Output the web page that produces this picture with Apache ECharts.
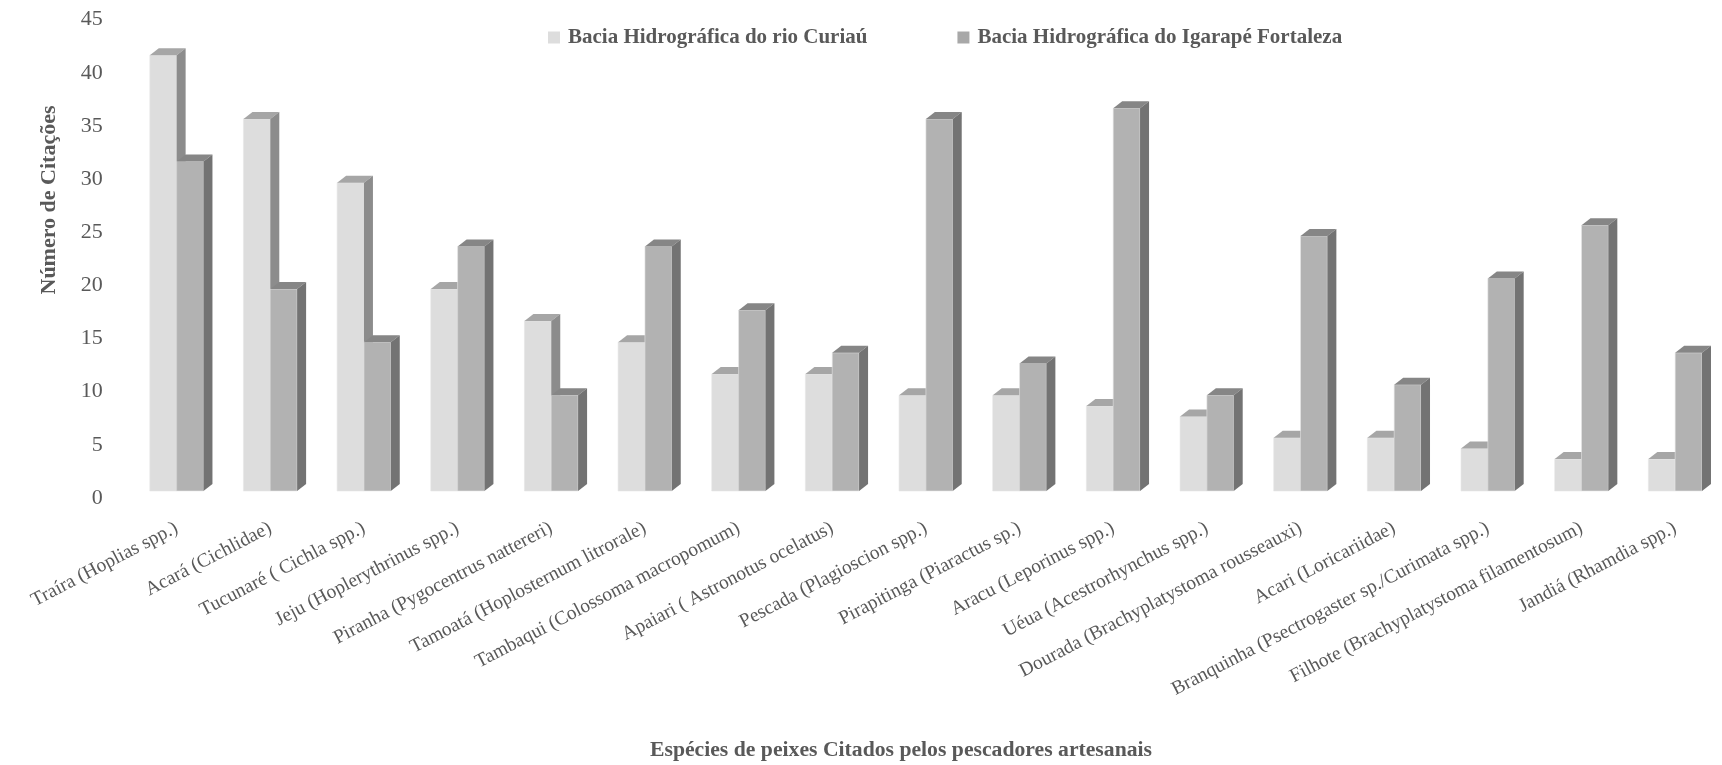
<!DOCTYPE html>
<html>
<head>
<meta charset="utf-8">
<script src="https://cdn.jsdelivr.net/npm/echarts@6/dist/echarts.min.js"></script>
<style>
  html, body { margin: 0; padding: 0; background: #fff; }
  #chart { width: 1722px; height: 765px; }
</style>
</head>
<body>
<div id="chart"></div>
<script>
// espécies citadas (eixo x)
var especies = [
  'Traíra (Hoplias spp.)',
  'Acará (Cichlidae)',
  'Tucunaré ( Cichla spp.)',
  'Jeju (Hoplerythrinus spp.)',
  'Piranha (Pygocentrus nattereri)',
  'Tamoatá (Hoplosternum litrorale)',
  'Tambaqui (Colossoma macropomum)',
  'Apaiari ( Astronotus ocelatus)',
  'Pescada (Plagioscion spp.)',
  'Pirapitinga (Piaractus sp.)',
  'Aracu (Leporinus spp.)',
  'Uéua (Acestrorhynchus spp.)',
  'Dourada (Brachyplatystoma rousseauxi)',
  'Acari (Loricariidae)',
  'Branquinha (Psectrogaster sp./Curimata spp.)',
  'Filhote (Brachyplatystoma filamentosum)',
  'Jandiá (Rhamdia spp.)'
]
var nomesSeries = ['Bacia Hidrográfica do rio Curiaú', 'Bacia Hidrográfica do Igarapé Fortaleza']
var curiau = [41, 35, 29, 19, 16, 14, 11, 11, 9, 9, 8, 7, 5, 5, 4, 3, 3]
var fortaleza = [31, 19, 14, 23, 9, 23, 17, 13, 35, 12, 36, 9, 24, 10, 20, 25, 13]

var fonte = '"Liberation Serif", "Times New Roman", serif'
var cinzaTexto = '#595959'

// cores das faces: frente, topo, lado
var coresCuriau = { front: '#dddddd', top: '#a6a6a6', side: '#8c8c8c' }
var coresFortaleza = { front: '#b2b2b2', top: '#868686', side: '#737373' }

// barra "3D" desenhada com a escala do eixo
function barra3d(idx, cores) {
  return function (params, api) {
    var ci = api.value(0)
    var v = api.value(1)
    var base = api.coord([ci, 0])
    var topo = api.coord([ci, v])
    var banda = api.size([1, 0])[0]
    var bw = banda * 0.2864
    var dx = 9, dy = 7
    var x0 = base[0] - bw + idx * bw
    var x1 = x0 + bw
    var yt = topo[1], yb = base[1]
    return {
      type: 'group',
      children: [
        { type: 'rect', shape: { x: x0, y: yt, width: bw, height: yb - yt }, style: { fill: cores.front, stroke: '#e6e6e6', lineWidth: 0.6 } },
        { type: 'polygon', shape: { points: [[x0, yt], [x0 + dx, yt - dy], [x1 + dx, yt - dy], [x1, yt]] }, style: { fill: cores.top } },
        { type: 'polygon', shape: { points: [[x1, yt], [x1 + dx, yt - dy], [x1 + dx, yb - dy], [x1, yb]] }, style: { fill: cores.side } }
      ]
    }
  }
}

var chart = echarts.init(document.getElementById('chart'))
chart.setOption({
  backgroundColor: '#ffffff',
  animation: false,
  grid: { left: 129.8, width: 1602.6, top: 12.65, bottom: 274 },
  legend: {
    left: 543,
    top: 22,
    itemWidth: 12,
    itemHeight: 12,
    itemGap: 90,
    icon: 'rect',
    textStyle: { fontFamily: fonte, fontWeight: 'bold', fontSize: 21, color: cinzaTexto, padding: [0, 0, 0, 3] },
    data: [
      { name: nomesSeries[0], itemStyle: { color: '#dddddd' } },
      { name: nomesSeries[1], itemStyle: { color: '#a8a8a8' } }
    ]
  },
  xAxis: {
    type: 'category',
    data: especies,
    axisLine: { show: false },
    axisTick: { show: false },
    axisLabel: {
      interval: 0,
      rotate: 27.5,
      margin: 36,
      fontFamily: fonte,
      fontSize: 19.5,
      color: cinzaTexto
    }
  },
  yAxis: {
    type: 'value',
    min: 0,
    max: 45,
    interval: 5,
    axisLine: { show: false },
    axisTick: { show: false },
    splitLine: { show: false },
    axisLabel: {
      margin: 27,
      fontFamily: fonte,
      fontSize: 22,
      color: cinzaTexto,
      verticalAlign: 'top',
      lineHeight: 14
    }
  },
  graphic: [
    {
      type: 'text',
      x: 49, y: 200,
      rotation: Math.PI / 2,
      style: {
        text: 'Número de Citações',
        font: 'bold 22px ' + fonte,
        fill: cinzaTexto,
        align: 'center',
        verticalAlign: 'middle'
      }
    },
    {
      type: 'text',
      x: 901, y: 750,
      style: {
        text: 'Espécies de peixes Citados pelos pescadores artesanais',
        font: 'bold 21.7px ' + fonte,
        fill: cinzaTexto,
        align: 'center',
        verticalAlign: 'middle'
      }
    }
  ],
  series: [
    {
      name: nomesSeries[0],
      type: 'custom',
      itemStyle: { color: '#dddddd' },
      renderItem: barra3d(0, coresCuriau),
      encode: { x: 0, y: 1 },
      data: curiau.map(function (v, i) { return [i, v] })
    },
    {
      name: nomesSeries[1],
      type: 'custom',
      itemStyle: { color: '#a8a8a8' },
      renderItem: barra3d(1, coresFortaleza),
      encode: { x: 0, y: 1 },
      data: fortaleza.map(function (v, i) { return [i, v] })
    }
  ]
})
</script>
</body>
</html>
